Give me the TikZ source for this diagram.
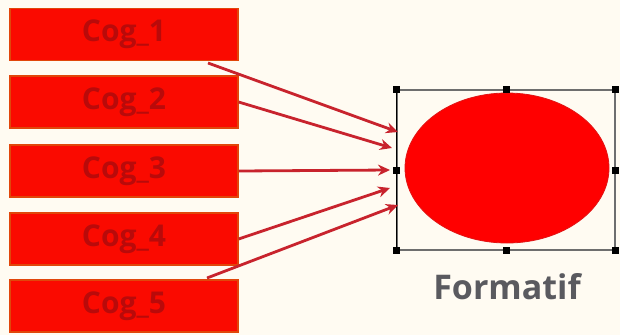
\documentclass[tikz,border=0pt]{standalone}
\usepackage{fontspec}
\setmainfont{Open Sans}
\usetikzlibrary{arrows.meta,shapes.geometric}
\definecolor{bg}{RGB}{255,251,242}
\definecolor{boxred}{RGB}{250,10,0}
\definecolor{boxedge}{RGB}{225,70,10}
\definecolor{cogtext}{RGB}{185,10,10}
\definecolor{arrowred}{RGB}{200,35,45}
\definecolor{selgray}{RGB}{110,110,110}
\definecolor{labgray}{RGB}{90,90,95}
\tikzset{
  cogbox/.style={rectangle, fill=boxred, draw=boxedge, line width=1.2pt,
    minimum width=228pt, minimum height=52pt, inner sep=0pt,
    text=cogtext, font=\fontsize{30}{32}\selectfont\bfseries},
  link/.style={draw=arrowred, line width=2.8pt,
    -{Stealth[length=12pt,width=11pt]}},
  handle/.style={rectangle, fill=black, minimum size=7pt, inner sep=0pt},
}
\begin{document}
\begin{tikzpicture}[x=1pt,y=-1pt]
\fill[bg] (0,0) rectangle (620,335);
\useasboundingbox (0,0) rectangle (620,335);
% boxes
\node[cogbox] (c1) at (124,34.5) {Cog\_1};
\node[cogbox] (c2) at (124,102) {Cog\_2};
\node[cogbox] (c3) at (124,171) {Cog\_3};
\node[cogbox] (c4) at (124,239) {Cog\_4};
\node[cogbox] (c5) at (124,306) {Cog\_5};
% selection frame
\node[rectangle, draw=selgray, line width=1.4pt, minimum width=218pt,
  minimum height=160pt, inner sep=0pt] (sel) at (506,170) {};
\draw[black, line width=1.6pt] (sel.north west) -- (sel.south west);
% ellipse
\node[ellipse, fill=red, draw={rgb,255:red,225;green,20;blue,20}, line width=0.8pt,
  minimum width=204pt, minimum height=150pt, inner sep=0pt] (f) at (507,168) {};
% handles
\foreach \a in {north west,north,north east,west,east,south west,south,south east}
  \node[handle] at (sel.\a) {};
% label
\node[text=labgray, font=\fontsize{34}{36}\selectfont\bfseries] (lab) at (507,287) {Formatif};
% arrow endpoints
\coordinate (s1) at (208,63);
\coordinate (s2) at (c2.east);
\coordinate (s3) at (c3.east);
\coordinate (s4) at (c4.east);
\coordinate (s5) at (207,278);
\coordinate (e1) at (398,132);
\coordinate (e2) at (392,148);
\coordinate (e3) at (390,170);
\coordinate (e4) at (390,188);
\coordinate (e5) at (398,205);
\draw[link] (s1) -- (e1);
\draw[link] (s2) -- (e2);
\draw[link] (s3) -- (e3);
\draw[link] (s4) -- (e4);
\draw[link] (s5) -- (e5);
\end{tikzpicture}
\end{document}
